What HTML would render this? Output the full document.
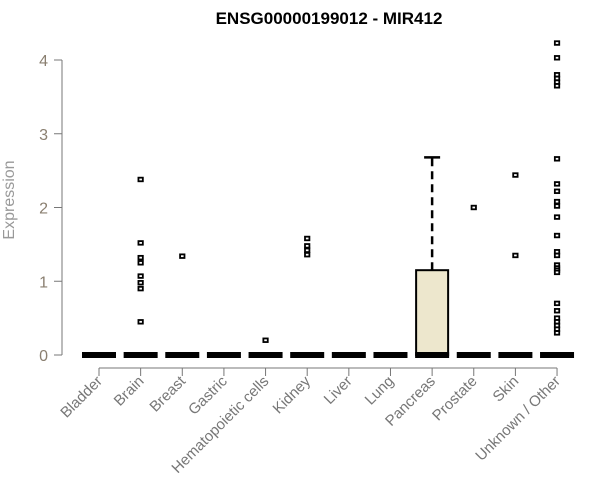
<!DOCTYPE html>
<html><head><meta charset="utf-8"><style>
body{margin:0;background:#fff;}
svg{display:block;font-family:"Liberation Sans",Arial,sans-serif;}
</style></head><body>
<svg id="chart" width="600" height="500">
<text x="329" y="24" text-anchor="middle" font-weight="bold" font-size="17" fill="#000">ENSG00000199012 - MIR412</text>
<text x="14" y="200" transform="rotate(-90 14 200)" text-anchor="middle" font-size="16" fill="#999">Expression</text>
<g id="g"></g>
</svg>
<script>
const categories=["Bladder","Brain","Breast","Gastric","Hematopoietic cells","Kidney","Liver","Lung","Pancreas","Prostate","Skin","Unknown / Other"];
const q1=[0,0,0,0,0,0,0,0,0,0,0,0];
const medians=[0,0,0,0,0,0,0,0,0,0,0,0];
const q3=[0,0,0,0,0,0,0,0,1.15,0,0,0];
const whiskerHigh=[0,0,0,0,0,0,0,0,2.68,0,0,0];
const outliers=[[],[2.38,1.52,1.32,1.25,1.07,0.98,0.9,0.45],[1.34],[],[0.2],[1.58,1.48,1.42,1.36],[],[],[],[2.0],[2.44,1.35],
[4.23,4.03,3.8,3.75,3.7,3.65,2.66,2.32,2.22,2.08,2.02,1.87,1.62,1.4,1.35,1.22,1.18,1.15,1.12,0.7,0.6,0.5,0.45,0.4,0.35,0.3]];
const yTicks=[0,1,2,3,4];
const NS="http://www.w3.org/2000/svg";
const g=document.getElementById('g');
const x=i=>99+i*41.64;
const y=v=>355-v*73.75;
function mk(t,a){const e=document.createElementNS(NS,t);for(const k in a)e.setAttribute(k,a[k]);g.appendChild(e);return e;}
let e=mk('line',{x1:62,y1:y(0),x2:62,y2:y(4),stroke:'#777'});


yTicks.forEach(t=>{
 let l=mk('line',{x1:54,x2:62,y1:y(t),y2:y(t),stroke:'#777'});
 
 
 let tx=mk('text',{x:48,y:y(t)+6,'text-anchor':'end','font-size':16,fill:'#8a7f70'});tx.textContent=t;
 
 
});
e=mk('line',{x1:x(0),x2:x(11),y1:368,y2:368,stroke:'#777'});


categories.forEach((c,i)=>{
 const cx=x(i);
 let l=mk('line',{x1:cx,x2:cx,y1:368,y2:376,stroke:'#777'});
 
 
 let tx=mk('text',{x:cx+4,y:382,'text-anchor':'end','font-size':15,fill:'#777',transform:`rotate(-45 ${cx+4} 382)`});tx.textContent=c;
 
 
 if(whiskerHigh[i]>q3[i]){
  let w=mk('line',{x1:cx,x2:cx,y1:y(q3[i]),y2:y(whiskerHigh[i]),stroke:'#000','stroke-width':2.5,'stroke-dasharray':'8,5'});
  
  
  let cap=mk('line',{x1:cx-8,x2:cx+8,y1:y(whiskerHigh[i]),y2:y(whiskerHigh[i]),stroke:'#000','stroke-width':2.5});
  
  
 }
 if(q3[i]>q1[i]){
  let b=mk('rect',{x:cx-16,y:y(q3[i]),width:32,height:y(q1[i])-y(q3[i]),fill:'#ede7cd',stroke:'#000','stroke-width':2});
  
  
 }
 let m=mk('line',{x1:cx-17,x2:cx+17,y1:y(medians[i]),y2:y(medians[i]),stroke:'#000','stroke-width':6});
 
 
 outliers[i].forEach(v=>{
  let o=mk('rect',{x:cx-2.2,y:y(v)-1.8,width:4.4,height:3.6,fill:'#fff',stroke:'#000','stroke-width':1.8});
  
  
 });
});
</script>
</body></html>
